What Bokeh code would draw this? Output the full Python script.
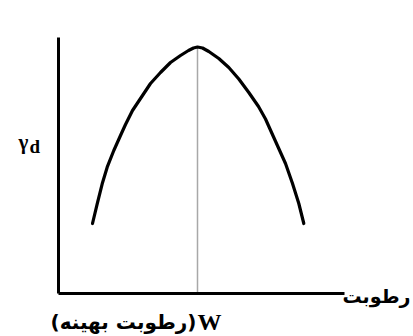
from bokeh.plotting import figure
from bokeh.models import Range1d
from bokeh.core.properties import value
from bokeh.embed import file_html
from bokeh.resources import INLINE

# Compaction curve: dry unit weight vs. moisture content (arbitrary units)
moisture = [3.40, 3.87, 4.37, 4.87, 5.53, 6.20, 6.70, 7.40, 8.20, 9.20, 10.20, 11.20, 12.20, 13.00, 13.50, 13.90,
            14.40, 15.03, 16.03, 17.03, 18.03, 19.03, 20.00, 20.70, 21.53, 22.70, 23.40, 24.03, 24.53]
dry_density = [7.00, 8.97, 10.97, 12.63, 14.30, 15.80, 16.90, 18.30, 19.50, 21.00, 22.10, 23.10, 23.80, 24.30, 24.55, 24.65,
               24.55, 24.20, 23.50, 22.60, 21.45, 20.10, 18.70, 17.45, 15.60, 13.00, 11.00, 9.00, 7.00]
optimum_moisture = 13.9
max_density = 24.65
axis_x_end = 28.6
axis_y_end = 25.6

p = figure(width=413, height=336, output_backend="svg", toolbar_location=None,
           x_range=Range1d(-5.8, 35.5), y_range=Range1d(-4.3, 29.3),
           min_border=0, outline_line_color=None, background_fill_color="white")
p.xaxis.visible = False
p.yaxis.visible = False
p.grid.visible = False

# optimum-moisture marker
p.line([optimum_moisture, optimum_moisture], [0, max_density], line_color="#a8a8a8", line_width=1.5)

# axes
p.line([0, 0], [axis_y_end, 0], line_color="black", line_width=3)
p.line([0, axis_x_end], [0, 0], line_color="black", line_width=3)

# curve
p.line(moisture, dry_density, line_color="black", line_width=3.2, line_join="round", line_cap="round")

serif = value("Liberation Serif")
arabic = value("DejaVu Sans")

p.text(x=[-4.0], y=[15.2], text=["γ"], text_font=serif, text_font_style="bold",
       text_font_size="21px", text_baseline="alphabetic", text_align="left")
p.text(x=[-2.9], y=[14.7], text=["d"], text_font=serif, text_font_style="bold",
       text_font_size="19px", text_baseline="alphabetic", text_align="left")

p.text(x=[35.2], y=[-0.2], text=["رطوبت"], text_font=arabic, text_font_style="bold",
       text_font_size="19px", text_baseline="middle", text_align="right")

p.text(x=[13.9], y=[-2.85], text=["W"], text_font=serif, text_font_style="bold",
       text_font_size="24px", text_baseline="middle", text_align="left")
p.text(x=[13.8], y=[-2.85], text=["(رطوبت بهینه)"], text_font=arabic, text_font_style="bold",
       text_font_size="20px", text_baseline="middle", text_align="right")

open("out.html", "w").write(file_html(p, INLINE))
